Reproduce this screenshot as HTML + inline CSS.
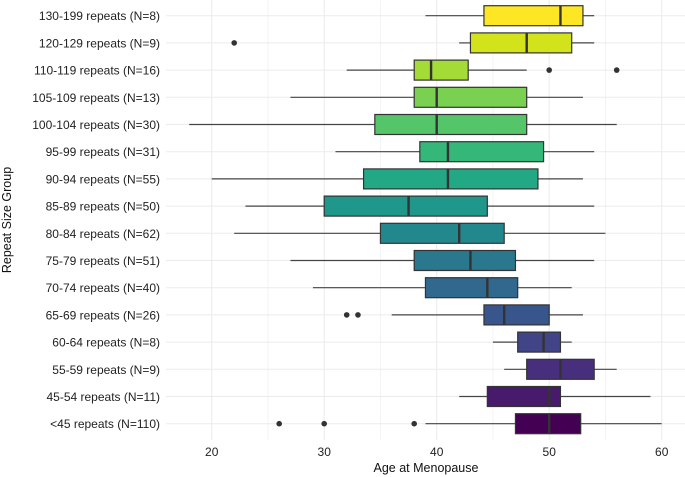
<!DOCTYPE html>
<html><head><meta charset="utf-8"><style>
body{margin:0;background:#fff;}
svg{display:block;font-family:"Liberation Sans",Arial,sans-serif;}
</style></head><body>
<svg id="chart" width="685" height="477" viewBox="0 0 685 477"></svg>
<script>
const groups=["130-199 repeats (N=8)","120-129 repeats (N=9)","110-119 repeats (N=16)","105-109 repeats (N=13)","100-104 repeats (N=30)","95-99 repeats (N=31)","90-94 repeats (N=55)","85-89 repeats (N=50)","80-84 repeats (N=62)","75-79 repeats (N=51)","70-74 repeats (N=40)","65-69 repeats (N=26)","60-64 repeats (N=8)","55-59 repeats (N=9)","45-54 repeats (N=11)","<45 repeats (N=110)"];
const whiskerLow=[39,42,32,27,18,31,20,23,22,27,29,36,45,46,42,39];
const q1=[44.2,43,38,38,34.5,38.5,33.5,30,35,38,39,44.2,47.2,48,44.5,47];
const median=[51,48,39.5,40,40,41,41,37.5,42,43,44.5,46,49.5,51,50,50];
const q3=[53,52,42.8,48,48,49.5,49,44.5,46,47,47.2,50,51,54,51,52.8];
const whiskerHigh=[54,54,48,53,56,54,53,54,55,54,52,53,52,56,59,60];
const outliers=[[],[22],[50,56],[],[],[],[],[],[],[],[],[32,33],[],[],[],[26,30,38]];
const xTicks=[20,30,40,50,60];
const colors=["#FDE725","#D2E21B","#A5DB36","#7AD151","#54C568","#35B779","#22A884","#1F988B","#23888E","#2A788E","#31688E","#39568C","#414487","#472F7D","#481A6C","#440154"];

const svg=document.getElementById('chart');
const NS="http://www.w3.org/2000/svg";
const xs=v=>211.7+(v-20)*11.25;
const ys=i=>15.7+i*27.2;
function mk(tag,attrs,parent){const e=document.createElementNS(NS,tag);for(const k in attrs)e.setAttribute(k,attrs[k]);(parent||svg).appendChild(e);return e;}
// grid
for(let v=15;v<=62;v+=5){if(v<16)continue;
 const g=mk('line',{x1:xs(v),x2:xs(v),y1:0,y2:440,stroke:'#ebebeb','stroke-width':v%10===0?1:0.6});
 
 }
groups.forEach((g,i)=>{const l=mk('line',{x1:166,x2:685,y1:ys(i),y2:ys(i),stroke:'#ebebeb','stroke-width':1});
 
 });
groups.forEach((name,i)=>{
 const y=ys(i);
 const grp=mk('g',{});
 
 
 mk('line',{x1:xs(whiskerLow[i]),x2:xs(q1[i]),y1:y,y2:y,stroke:'#444','stroke-width':1.2},grp);
 mk('line',{x1:xs(q3[i]),x2:xs(whiskerHigh[i]),y1:y,y2:y,stroke:'#444','stroke-width':1.2},grp);
 mk('rect',{x:xs(q1[i]),y:y-10,width:xs(q3[i])-xs(q1[i]),height:20,fill:colors[i],stroke:'#333','stroke-width':1.2},grp);
 mk('line',{x1:xs(median[i]),x2:xs(median[i]),y1:y-10,y2:y+10,stroke:'#333','stroke-width':2.4},grp);
 outliers[i].forEach(o=>{const c=mk('circle',{cx:xs(o),cy:y,r:2.8,fill:'#333'});
  
  });
 const t=mk('text',{x:160,y:y+4.5,'text-anchor':'end','font-size':12,fill:'#222'});
 t.textContent=name;
 
 
});
xTicks.forEach(v=>{const t=mk('text',{x:xs(v),y:456,'text-anchor':'middle','font-size':12,fill:'#222'});
 t.textContent=v;
 
 });
const xt=mk('text',{x:426,y:472,'text-anchor':'middle','font-size':12.5,fill:'#111'});
xt.textContent='Age at Menopause';


const yt=mk('text',{x:0,y:0,'text-anchor':'middle','font-size':12.5,fill:'#111',transform:'translate(11,220) rotate(-90)'});
yt.textContent='Repeat Size Group';


</script>
</body></html>
